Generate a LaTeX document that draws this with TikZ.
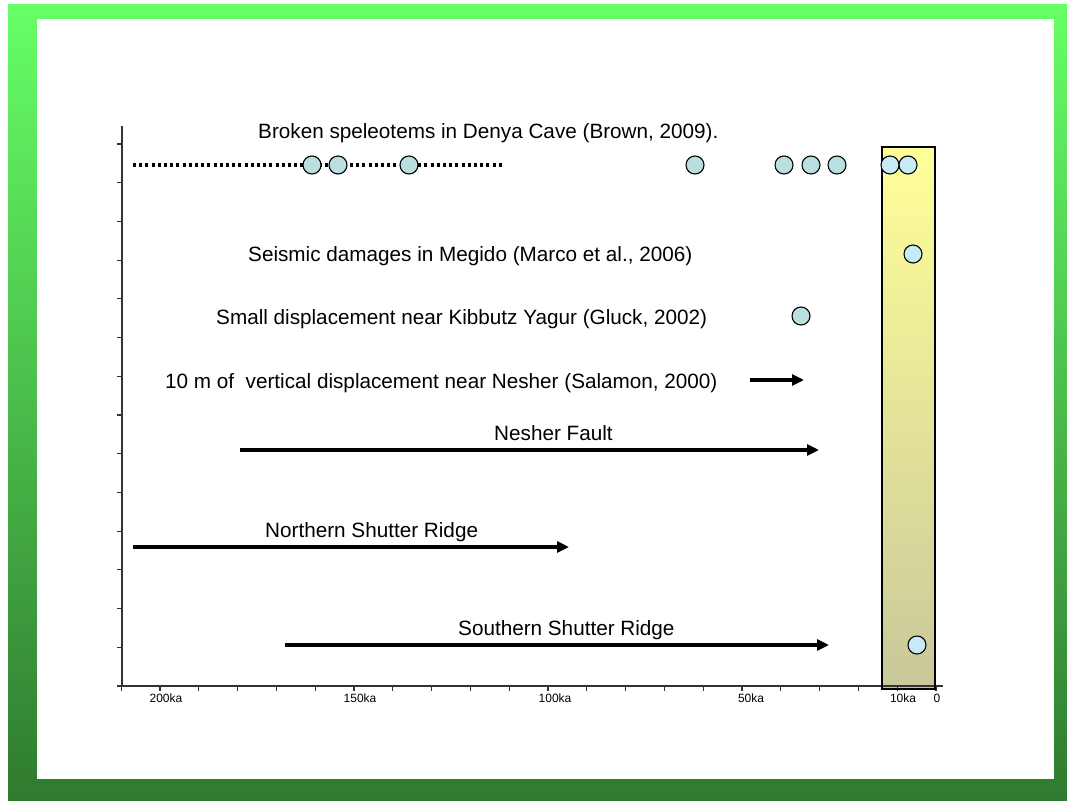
\documentclass[tikz,border=0pt]{standalone}
\usepackage{fontspec}
\setmainfont{Liberation Sans}
\usetikzlibrary{arrows.meta}
\definecolor{gtop}{HTML}{66FF66}
\definecolor{gbot}{HTML}{2F7A2F}
\definecolor{ytop}{HTML}{FFFF99}
\definecolor{ybot}{HTML}{C8C89A}
\definecolor{dotout}{HTML}{B9DFE0}
\definecolor{dotin}{HTML}{C6EBF7}
\definecolor{axisc}{HTML}{333333}
\tikzset{
  lbl/.style={anchor=base west, inner sep=0pt, font=\fontsize{20.7}{24}\selectfont},
  ticklbl/.style={anchor=base, inner sep=0pt, font=\fontsize{12}{14}\selectfont},
  evt/.style={circle, draw=black, line width=1.1pt, minimum size=18pt, inner sep=0pt, fill=dotout},
  evtin/.style={evt, fill=dotin},
  arr/.style={line width=3.2pt, -{Triangle[length=12pt,width=11pt]}},
  axisline/.style={draw=axisc, line width=1.4pt},
}
\begin{document}
\begin{tikzpicture}[x=1pt,y=-1pt]
\useasboundingbox (0,0) rectangle (1067,800);
% frame
\shade[top color=gtop, bottom color=gbot] (8,5) rectangle (1067,800);
\fill[white] (37,19) rectangle (1054,779);
% holocene box
\shade[top color=ytop, bottom color=ybot] (882,147) rectangle (935,689);
% axes
\draw[axisline] (122,126) -- (122,686);
\draw[axisline] (117,686) -- (943,686);
\foreach \k in {0,...,13} {
  \draw[axisline, line width=1.1pt] (117,144+38.714*\k) -- (122,144+38.714*\k);
}
\foreach \k in {0,...,21} {
  \draw[axisline, line width=1.1pt] (936-38.8*\k,686) -- (936-38.8*\k,691);
}
\draw[black, line width=1.3pt] (882,147) rectangle (935,689);
% tick labels
\node[ticklbl] (t200) at (166,702) {200ka};
\node[ticklbl] (t150) at (360,702) {150ka};
\node[ticklbl] (t100) at (555,702) {100ka};
\node[ticklbl] (t50) at (751,702) {50ka};
\node[ticklbl] (t10) at (903,702) {10ka};
\node[ticklbl] (t0) at (937,702) {0};
% labels
\node[lbl] (l1) at (258,138) {Broken speleotems in Denya Cave (Brown, 2009).};
\node[lbl] (l2) at (248,261) {Seismic damages in Megido (Marco et al., 2006)};
\node[lbl] (l3) at (216,324) {Small displacement near Kibbutz Yagur (Gluck, 2002)};
\node[lbl] (l4) at (165,388) {10 m of\ \ vertical displacement near Nesher (Salamon, 2000)};
\node[lbl] (l5) at (494,440) {Nesher Fault};
\node[lbl] (l6) at (265,537) {Northern Shutter Ridge};
\node[lbl] (l7) at (458,635) {Southern Shutter Ridge};
% dotted range
\coordinate (ds) at (133,165);
\coordinate (de) at (503,165);
\draw[line width=3.2pt, dash pattern=on 3pt off 3.2pt] (ds) -- (de);
% events
\node[evt] (c1) at (312,165) {};
\node[evt] (c2) at (338,165) {};
\node[evt] (c3) at (409,165) {};
\node[evt] (c4) at (695,165) {};
\node[evt] (c5) at (784,165) {};
\node[evt] (c6) at (811,165) {};
\node[evt] (c7) at (837,165) {};
\node[evtin] (c8) at (890,165) {};
\node[evtin] (c9) at (908,165) {};
\node[evtin] (c10) at (913,254) {};
\node[evt] (c11) at (801,316) {};
\node[evtin] (c12) at (917,645) {};
% arrows
\coordinate (a1s) at (750,380); \coordinate (a1e) at (804,380);
\coordinate (a2s) at (240,450); \coordinate (a2e) at (819,450);
\coordinate (a3s) at (133,547); \coordinate (a3e) at (569,547);
\coordinate (a4s) at (285,645); \coordinate (a4e) at (829,645);
\draw[arr] (a1s) -- (a1e);
\draw[arr] (a2s) -- (a2e);
\draw[arr] (a3s) -- (a3e);
\draw[arr] (a4s) -- (a4e);
\end{tikzpicture}
\end{document}
